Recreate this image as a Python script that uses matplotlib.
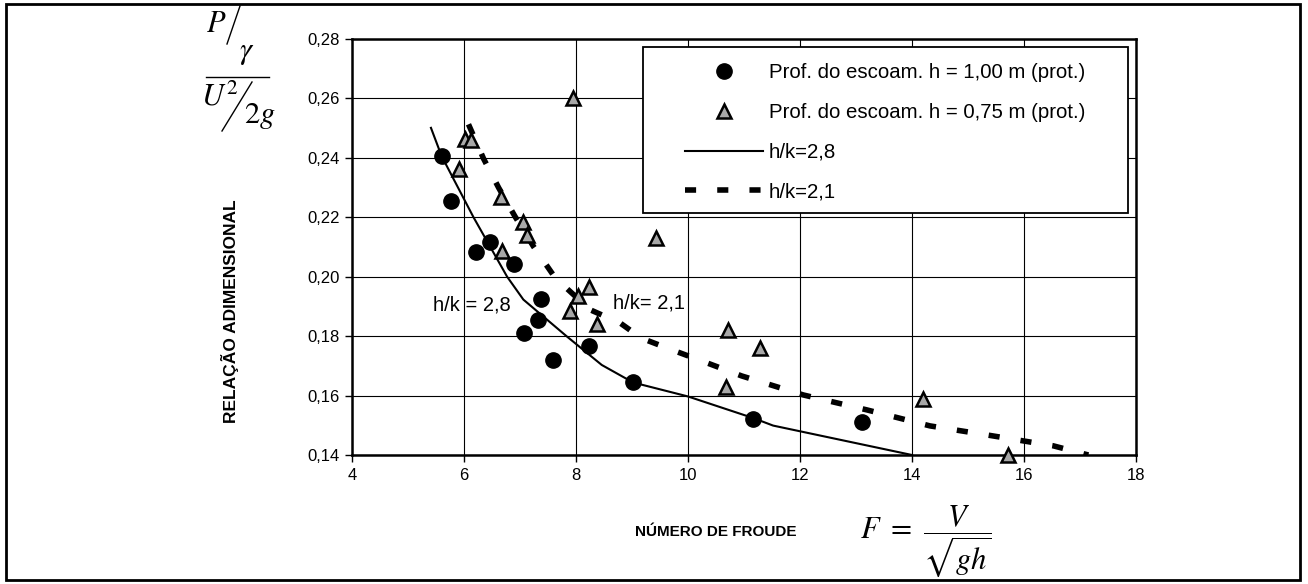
import matplotlib
matplotlib.use('Agg')
import matplotlib.pyplot as plt
from matplotlib.lines import Line2D
from matplotlib.patches import Rectangle
from matplotlib.ticker import FuncFormatter

plt.rcParams['font.family'] = ['Liberation Sans', 'DejaVu Sans']
plt.rcParams['mathtext.fontset'] = 'stix'

# prototype measurements, h = 1,00 m
froude_h100 = [5.60, 5.77, 6.21, 6.46, 6.89, 7.37, 7.32, 7.07, 8.24, 7.59, 9.02, 11.16, 13.10]
rel_h100 = [0.2406, 0.2254, 0.2082, 0.2116, 0.2043, 0.1925, 0.1853, 0.1812, 0.1767, 0.1720, 0.1646, 0.1521, 0.1510]

# prototype measurements, h = 0,75 m
froude_h075 = [5.91, 6.02, 6.12, 6.66, 6.68, 7.06, 7.12, 7.94, 7.89, 8.03, 8.23, 8.37, 9.42,
               10.67, 10.71, 11.29, 14.19, 15.71]
rel_h075 = [0.2361, 0.2464, 0.2460, 0.2268, 0.2088, 0.2183, 0.2142, 0.2603, 0.1883, 0.1934, 0.1964,
            0.1842, 0.2131, 0.1628, 0.1819, 0.1760, 0.1589, 0.1400]

# fitted curves
froude_hk28 = [5.41, 5.60, 6.17, 6.77, 7.06, 7.83, 8.46, 9.02, 10.00, 11.17, 11.52, 14.00]
rel_hk28 = [0.2501, 0.2406, 0.2200, 0.2000, 0.1923, 0.1800, 0.1703, 0.1644, 0.1597, 0.1524, 0.1499, 0.1400]

froude_hk21 = [6.08, 6.35, 6.62, 6.91, 7.24, 7.63, 8.25, 8.79, 9.17, 9.71, 10.24, 10.96,
               12.06, 13.19, 14.32, 15.42, 16.52, 17.15]
rel_hk21 = [0.2513, 0.2397, 0.2299, 0.2203, 0.2102, 0.1996, 0.1889, 0.1844, 0.1793, 0.1754, 0.1717,
            0.1666, 0.1602, 0.1552, 0.1498, 0.1465, 0.1431, 0.1400]

labels = ['Prof. do escoam. h = 1,00 m (prot.)', 'Prof. do escoam. h = 0,75 m (prot.)',
          'h/k=2,8', 'h/k=2,1']

W, H = 1308, 584
fig = plt.figure(figsize=(W / 100, H / 100), dpi=100)
ax = fig.add_axes([352 / W, 1 - 455 / H, (1136 - 352) / W, (455 - 39) / H])

def fx(px):
    return px / W

def fy(py):
    return 1 - py / H

l28, = ax.plot(froude_hk28, rel_hk28, color='black', lw=1.5, zorder=3)
l21, = ax.plot(froude_hk21, rel_hk21, color='black', lw=4, linestyle=(0, (2, 3.8)),
               dash_capstyle='butt', zorder=3)
p100, = ax.plot(froude_h100, rel_h100, 'o', color='black', ms=11, zorder=4, clip_on=False)
p075, = ax.plot(froude_h075, rel_h075, '^', mfc='#a8a8a8', mec='black', mew=1.8, ms=10.5,
                zorder=4, clip_on=False)

ax.set_xlim(4, 18)
ax.set_ylim(0.14, 0.28)
ax.set_xticks(range(4, 19, 2))
ax.set_yticks([0.14, 0.16, 0.18, 0.20, 0.22, 0.24, 0.26, 0.28])
ax.yaxis.set_major_formatter(FuncFormatter(lambda v, p: f'{v:.2f}'.replace('.', ',')))
ax.tick_params(direction='out', length=5, width=1, labelsize=12, pad=4)
ax.grid(color='black', lw=0.8)
ax.set_axisbelow(True)
for s in ax.spines.values():
    s.set_linewidth(1.8)

ax.text(6.14, 0.1906, 'h/k = 2,8', fontsize=14.5, ha='center', va='center')
ax.text(9.31, 0.1912, 'h/k= 2,1', fontsize=14.5, ha='center', va='center')

# legend box
def axf(px, py):
    return ((px - 352) / (1136 - 352), (455 - py) / (455 - 39))

x0, y0 = axf(643, 213)
x1, y1 = axf(1128, 47)
ax.add_patch(Rectangle((x0, y0), x1 - x0, y1 - y0, transform=ax.transAxes,
                       facecolor='white', edgecolor='black', lw=1.3, zorder=5))
leg = ax.legend([p100, p075, l28, l21], labels, loc='upper left',
                bbox_to_anchor=axf(685, 63), frameon=False, borderpad=0,
                borderaxespad=0, fontsize=14.7, handlelength=3.8, handletextpad=0.3,
                labelspacing=1.02, numpoints=1)
leg.set_zorder(6)

fig.text(fx(230), fy(311), 'RELAÇÃO ADIMENSIONAL', rotation=90, fontsize=12.5,
         fontweight='bold', ha='center', va='center')
fig.text(fx(716), fy(532), 'NÚMERO DE FROUDE', fontsize=11, fontweight='bold',
         ha='center', va='center')

# P/gamma over U^2/2g
fig.text(fx(216), fy(24), r'$P$', fontsize=22, ha='center', va='center')
fig.text(fx(247), fy(52), r'$\gamma$', fontsize=22, ha='center', va='center')
fig.text(fx(220), fy(98), r'$U^2$', fontsize=22, ha='center', va='center')
fig.text(fx(260), fy(116), r'$2g$', fontsize=22, ha='center', va='center')
fig.add_artist(Line2D([fx(227), fx(240)], [fy(44), fy(6)], color='black', lw=1))
fig.add_artist(Line2D([fx(222), fx(252)], [fy(131), fy(82)], color='black', lw=1))
fig.add_artist(Line2D([fx(206), fx(269)], [fy(76.7), fy(76.7)], color='black', lw=1))

fig.text(fx(926), fy(541), r'$F\ =\ \dfrac{V}{\sqrt{gh}}$', fontsize=22, ha='center', va='center')

# outer frame
fig.add_artist(Rectangle((fx(6), fy(580)), fx(1300 - 6), (580 - 4) / H, transform=fig.transFigure,
                         fill=False, edgecolor='black', lw=2))

fig.savefig('out.png', dpi=100)
